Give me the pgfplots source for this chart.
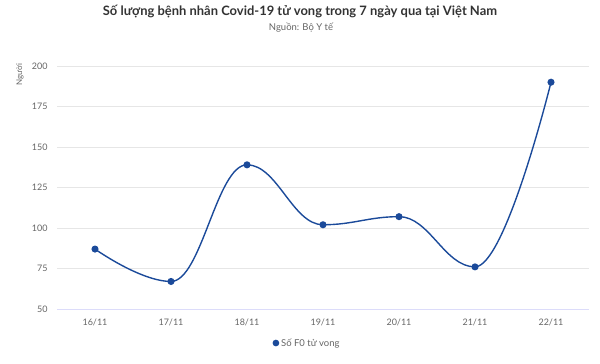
\documentclass[border=0pt]{standalone}
\usepackage{pgfplots}
\pgfplotsset{compat=1.18}
\usepackage{fontspec}
\setmainfont{Lato}
\definecolor{linec}{HTML}{1B4A9A}
\definecolor{gridc}{HTML}{E6E6E6}
\definecolor{tickc}{HTML}{666666}
\definecolor{titlec}{HTML}{333333}
% spline plot handler with horizontal tangents at interior points (Highcharts-like)
\makeatletter
\newdimen\hs@ax \newdimen\hs@ay \newdimen\hs@bx \newdimen\hs@by
\newdimen\hs@cx \newdimen\hs@cy \newdimen\hs@d \newdimen\hs@ex \newdimen\hs@fx
\newif\ifhs@afirst
\def\pgfplothandlerhspline{%
  \def\pgf@plotstreamstart{%
    \global\let\pgf@plotstreampoint=\hs@pointone
    \global\let\pgf@plotstreamspecial=\pgfutil@gobble
    \global\let\pgf@plotstreamend=\hs@end}%
}
\def\hs@pointone#1{%
  \pgf@process{#1}%
  \global\hs@ax=\pgf@x \global\hs@ay=\pgf@y
  \pgf@plot@first@action{\pgfqpoint{\hs@ax}{\hs@ay}}%
  \global\hs@afirsttrue
  \global\let\pgf@plotstreampoint=\hs@pointtwo}
\def\hs@pointtwo#1{%
  \pgf@process{#1}%
  \global\hs@bx=\pgf@x \global\hs@by=\pgf@y
  \global\let\pgf@plotstreampoint=\hs@pointn}
\def\hs@pointn#1{%
  \pgf@process{#1}%
  \global\hs@cx=\pgf@x \global\hs@cy=\pgf@y
  \hs@emit{0.4}%
  \global\hs@ax=\hs@bx \global\hs@ay=\hs@by
  \global\hs@bx=\hs@cx \global\hs@by=\hs@cy
  \global\hs@afirstfalse}
\def\hs@emit#1{%
  \hs@d=\hs@bx \advance\hs@d by -\hs@ax
  \ifhs@afirst \hs@ex=\hs@ax \else \hs@ex=\hs@ax \advance\hs@ex by 0.4\hs@d \fi
  \hs@fx=\hs@bx \advance\hs@fx by -#1\hs@d
  \pgfpathcurveto{\pgfqpoint{\hs@ex}{\hs@ay}}{\pgfqpoint{\hs@fx}{\hs@by}}{\pgfqpoint{\hs@bx}{\hs@by}}}
\def\hs@end{\hs@emit{0}}
\tikzset{hspline/.code={\let\tikz@plot@handler=\pgfplothandlerhspline}}
\makeatother
\begin{document}
\begin{tikzpicture}[x=1bp,y=1bp]
\path[use as bounding box, fill=white] (0,0) rectangle (600,363);
\node[font=\fontsize{13}{15}\selectfont\bfseries, text=titlec] at (300,351) {Số lượng bệnh nhân Covid-19 tử vong trong 7 ngày qua tại Việt Nam};
\node[font=\fontsize{9.5}{11}\selectfont, text=tickc] at (301,335) {Nguồn: Bộ Y tế};
\node[font=\fontsize{8}{10}\selectfont, text=tickc, rotate=90] at (20,288) {Người};
\begin{axis}[
  at={(57bp,54bp)}, anchor=south west,
  scale only axis, width=532bp, height=243bp,
  xmin=-0.5, xmax=6.5, ymin=50, ymax=200,
  xtick={0,...,6},
  xticklabels={16/11,17/11,18/11,19/11,20/11,21/11,22/11},
  ytick={50,75,100,125,150,175,200},
  ymajorgrids, grid style={gridc, line width=0.6pt},
  axis x line*=bottom, axis y line*=left,
  y axis line style={draw=none},
  x axis line style={color=gridc!60!blue!30, line width=0.8pt},
  major tick length=0pt,
  tick label style={font=\fontsize{9}{10}\selectfont, text=tickc},
  /pgf/number format/assume math mode=true,
  yticklabel style={xshift=-6bp},
  xticklabel style={yshift=-6bp},
  ylabel={},
  clip=false,
  legend style={at={(0.47,-0.14)}, anchor=center, draw=none, fill=none,
    font=\fontsize{9.5}{11}\selectfont, text=tickc, legend cell align=left},
  legend image code/.code={\fill[linec] (0.15cm,0cm) circle (2.6bp);},
]
\addplot[color=linec, line width=1.4pt, /tikz/hspline, mark=*, mark size=2.8bp, mark options={fill=linec, draw=linec}]
  coordinates {(0,87) (1,67) (2,139) (3,102) (4,107) (5,76) (6,190)};
\addlegendentry{Số F0 tử vong}
\end{axis}
\end{tikzpicture}
\end{document}
